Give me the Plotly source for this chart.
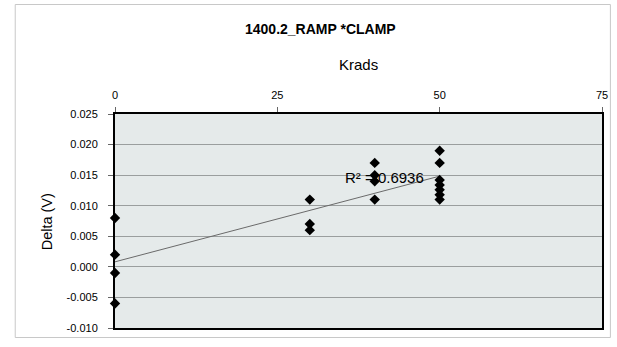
import numpy as np
import plotly.graph_objects as go

krads = [0, 0, 0, 0, 30, 30, 30, 40, 40, 40, 40, 50, 50, 50, 50, 50, 50, 50]
delta = [0.008, 0.002, -0.001, -0.006,
         0.011, 0.007, 0.006,
         0.017, 0.015, 0.014, 0.011,
         0.019, 0.017, 0.0142, 0.0134, 0.0126, 0.0118, 0.011]
x_ticks = [0, 25, 50, 75]
y_ticks = [-0.010, -0.005, 0.000, 0.005, 0.010, 0.015, 0.020, 0.025]
title_text = "1400.2_RAMP *CLAMP"
r2_text = "R² = 0.6936"

W, H = 617, 347
L, R, T, B = 115, 9, 114, 19
pw, ph = W - L - R, H - T - B

def px(xp):
    return (xp - L) / pw

def py(yp):
    return 1 - (yp - T) / ph

slope, intercept = np.polyfit(krads, delta, 1)
tx = [min(krads), max(krads)]
ty = [intercept + slope * v for v in tx]

FONT = "Liberation Sans, Arial, sans-serif"

fig = go.Figure()
fig.add_trace(go.Scatter(x=tx, y=ty, mode="lines",
                         line=dict(color="#6a6a6a", width=1), showlegend=False, hoverinfo="skip"))
fig.add_trace(go.Scatter(x=krads, y=delta, mode="markers",
                         marker=dict(symbol="diamond", size=8, color="black"),
                         showlegend=False, cliponaxis=False))

fig.update_layout(
    width=W, height=H,
    margin=dict(l=L, r=R, t=T, b=B),
    paper_bgcolor="white",
    plot_bgcolor="#E5EAEA",
    font=dict(family=FONT, size=11, color="black"),
    xaxis=dict(side="top", range=[0, 75], tickvals=x_ticks,
               ticktext=[str(v) for v in x_ticks],
               ticks="outside", ticklen=5, tickcolor="#666", showgrid=False,
               ticklabelstandoff=4,
               zeroline=False, showline=True, linecolor="black", linewidth=2, mirror=True,
               tickfont=dict(size=11, family=FONT)),
    yaxis=dict(range=[-0.010, 0.025], tickvals=y_ticks,
               ticktext=[f"{v:.3f}" for v in y_ticks],
               ticks="outside", ticklen=5, tickcolor="#666",
               ticklabelstandoff=8,
               showgrid=True, gridcolor="#9a9e9e", gridwidth=1,
               zeroline=False, showline=True, linecolor="black", linewidth=2, mirror=True,
               tickfont=dict(size=11, family=FONT)),
    shapes=[dict(type="rect", xref="paper", yref="paper",
                 x0=px(14), x1=px(616.5), y0=py(337.5), y1=py(4.5),
                 line=dict(color="#c8c8c8", width=1), layer="below")],
    annotations=[
        dict(text="<b>" + title_text + "</b>", xref="paper", yref="paper",
             x=px(322.8), y=py(28.5), showarrow=False, font=dict(size=14, family=FONT),
             xanchor="center", yanchor="middle"),
        dict(text="Krads", xref="paper", yref="paper",
             x=px(361.7), y=py(65), showarrow=False, font=dict(size=15, family=FONT),
             xanchor="center", yanchor="middle"),
        dict(text="Delta (V)", xref="paper", yref="paper", textangle=-90,
             x=px(46.5), y=py(222), showarrow=False, font=dict(size=14.5, family=FONT),
             xanchor="center", yanchor="middle"),
        dict(text=r2_text, xref="paper", yref="paper",
             x=px(346), y=py(177), showarrow=False, font=dict(size=15, family=FONT),
             xanchor="left", yanchor="middle"),
    ],
)

fig.write_html("out.html", config={"displayModeBar": False},
               post_script="document.body.style.margin='0';document.body.style.padding='0';")
